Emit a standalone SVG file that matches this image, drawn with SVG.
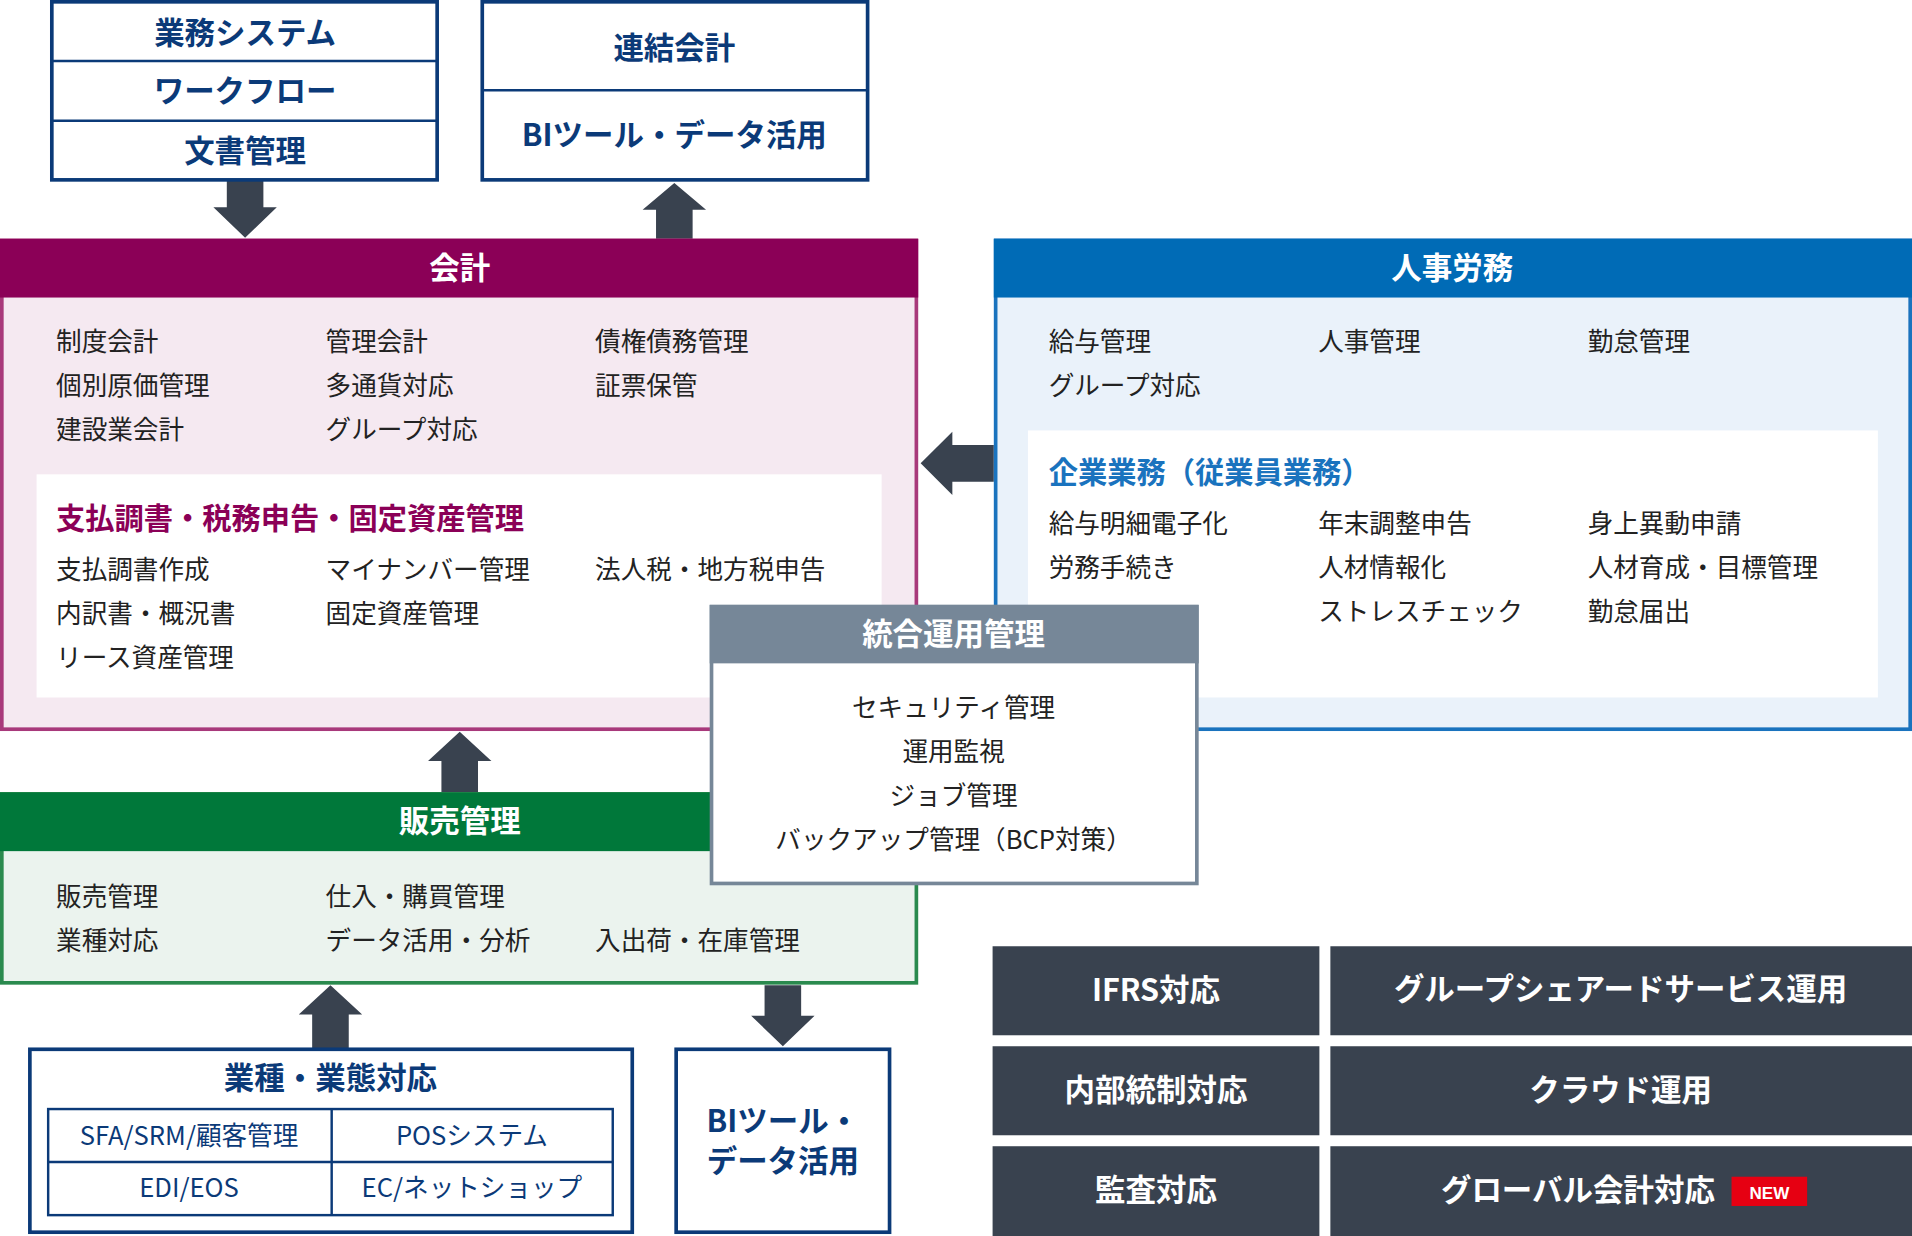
<svg xmlns="http://www.w3.org/2000/svg" width="1912" height="1236" viewBox="0 0 1912 1236">
<style>
text{font-family:"Noto Sans CJK JP","Noto Sans",sans-serif}
.t{font-size:21px;fill:#222}
.nv{font-size:25px;font-weight:bold;fill:#0b3a78;text-anchor:middle}
.wh{font-size:25px;font-weight:bold;fill:#fff;text-anchor:middle}
.nb{fill:#fff;stroke:#0b3a78;stroke-width:3}
.arr{fill:#39424f}
.dk{fill:#39424f}
.c{text-anchor:middle}
</style>
<rect width="1912" height="1236" fill="#fff"/>
<g transform="scale(1.2194)">
<g id="connectors">
<polygon class="arr" points="186,148 216,148 216,170 227,170 201,195 175,170 186,170"/>
<polygon class="arr" points="538,196 568,196 568,172 579,172 553,150 527,172 538,172"/>
<polygon class="arr" points="815,365 815,395 781,395 781,406 755,380 781,354 781,365"/>
<polygon class="arr" points="362,650 392,650 392,624 403,624 377,600 351,624 362,624"/>
<polygon class="arr" points="256,860 286,860 286,832 297,832 271,808 245,832 256,832"/>
<polygon class="arr" points="627,808 657,808 657,833 668,833 642,858 616,833 627,833"/>
</g>
<g id="gyomu">
<rect class="nb" x="42.5" y="1.5" width="316" height="146"/>
<line x1="42" y1="50" x2="359" y2="50" stroke="#0b3a78" stroke-width="2"/>
<line x1="42" y1="99" x2="359" y2="99" stroke="#0b3a78" stroke-width="2"/>
<text class="nv" x="201" y="36">業務システム</text>
<text class="nv" x="201" y="84">ワークフロー</text>
<text class="nv" x="201" y="133">文書管理</text>
</g>
<g id="renketsu">
<rect class="nb" x="395.5" y="1.5" width="316" height="146"/>
<line x1="395" y1="74" x2="712" y2="74" stroke="#0b3a78" stroke-width="2"/>
<text class="nv" x="553" y="48">連結会計</text>
<text class="nv" x="553" y="120">BIツール・データ活用</text>
</g>
<g id="kaikei">
<rect x="1.5" y="197" width="750" height="401" fill="#f5e9f1" stroke="#a8397b" stroke-width="3"/>
<rect x="0" y="196" width="753" height="48" fill="#8b0057"/>
<text class="wh" x="377" y="229">会計</text>
<g class="t">
<text x="46" y="288">制度会計</text><text x="267" y="288">管理会計</text><text x="488" y="288">債権債務管理</text>
<text x="46" y="324">個別原価管理</text><text x="267" y="324">多通貨対応</text><text x="488" y="324">証票保管</text>
<text x="46" y="360">建設業会計</text><text x="267" y="360">グループ対応</text>
</g>
<rect x="30" y="389" width="693" height="183" fill="#fff"/>
<text x="46" y="434" style="font-size:24px;font-weight:bold;fill:#8b0057">支払調書・税務申告・固定資産管理</text>
<g class="t">
<text x="46" y="475">支払調書作成</text><text x="267" y="475">マイナンバー管理</text><text x="488" y="475">法人税・地方税申告</text>
<text x="46" y="511">内訳書・概況書</text><text x="267" y="511">固定資産管理</text>
<text x="46" y="547">リース資産管理</text>
</g>
</g>
<g id="jinji">
<rect x="816.5" y="197" width="750" height="401" fill="#eaf2fa" stroke="#1a73be" stroke-width="3"/>
<rect x="815" y="196" width="753" height="48" fill="#006bb6"/>
<text class="wh" x="1191" y="229">人事労務</text>
<g class="t">
<text x="860" y="288">給与管理</text><text x="1081" y="288">人事管理</text><text x="1302" y="288">勤怠管理</text>
<text x="860" y="324">グループ対応</text>
</g>
<rect x="843" y="353" width="697" height="219" fill="#fff"/>
<text x="860" y="396" style="font-size:24px;font-weight:bold;fill:#1a73be">企業業務（従業員業務）</text>
<g class="t">
<text x="860" y="437">給与明細電子化</text><text x="1081" y="437">年末調整申告</text><text x="1302" y="437">身上異動申請</text>
<text x="860" y="473">労務手続き</text><text x="1081" y="473">人材情報化</text><text x="1302" y="473">人材育成・目標管理</text>
<text x="1081" y="509">ストレスチェック</text><text x="1302" y="509">勤怠届出</text>
</g>
</g>
<g id="hanbai">
<rect x="1.5" y="651" width="750" height="155" fill="#ebf3ee" stroke="#2a8a4e" stroke-width="3"/>
<rect x="0" y="650" width="753" height="48" fill="#00783a"/>
<text class="wh" x="377" y="682">販売管理</text>
<g class="t">
<text x="46" y="743">販売管理</text><text x="267" y="743">仕入・購買管理</text>
<text x="46" y="779">業種対応</text><text x="267" y="779">データ活用・分析</text><text x="488" y="779">入出荷・在庫管理</text>
</g>
</g>
<g id="togo">
<rect x="583.5" y="497.5" width="398" height="227" fill="#fff" stroke="#768798" stroke-width="3"/>
<rect x="582" y="496" width="401" height="48" fill="#768798"/>
<text class="wh" x="782" y="529">統合運用管理</text>
<g class="t c">
<text x="782" y="588">セキュリティ管理</text>
<text x="782" y="624">運用監視</text>
<text x="782" y="660">ジョブ管理</text>
<text x="782" y="696">バックアップ管理（BCP対策）</text>
</g>
</g>
<g id="gyoshu">
<rect class="nb" x="24.5" y="860.5" width="494" height="150"/>
<text class="nv" x="271" y="893">業種・業態対応</text>
<rect x="39.5" y="909.5" width="463" height="87" fill="none" stroke="#0b3a78" stroke-width="2"/>
<line x1="39" y1="953" x2="503" y2="953" stroke="#0b3a78" stroke-width="2"/>
<line x1="272" y1="909" x2="272" y2="997" stroke="#0b3a78" stroke-width="2"/>
<g class="c" style="font-size:21px;fill:#0b3a78">
<text x="155" y="939">SFA/SRM/顧客管理</text><text x="387" y="939">POSシステム</text>
<text x="155" y="982">EDI/EOS</text><text x="387" y="982">EC/ネットショップ</text>
</g>
</g>
<g id="bi2">
<rect class="nb" x="554.5" y="860.5" width="175" height="150"/>
<text class="nv" x="642" y="928">BIツール・</text>
<text class="nv" x="642" y="961">データ活用</text>
</g>
<g id="darkboxes">
<rect class="dk" x="814" y="776" width="268" height="73"/><text class="wh" x="948" y="821">IFRS対応</text>
<rect class="dk" x="1091" y="776" width="477" height="73"/><text class="wh" x="1329" y="820">グループシェアードサービス運用</text>
<rect class="dk" x="814" y="858" width="268" height="73"/><text class="wh" x="948" y="903">内部統制対応</text>
<rect class="dk" x="1091" y="858" width="477" height="73"/><text class="wh" x="1329" y="903">クラウド運用</text>
<rect class="dk" x="814" y="940" width="268" height="74"/><text class="wh" x="948" y="985">監査対応</text>
<rect class="dk" x="1091" y="940" width="477" height="74"/><text class="wh" x="1294" y="985">グローバル会計対応</text>
<rect x="1420" y="965" width="62" height="24" fill="#e60012"/>
<text x="1451" y="983" style="font-size:14px;font-weight:bold;fill:#fff;text-anchor:middle;font-family:'Liberation Sans',sans-serif">NEW</text>
</g>
</g>
</svg>
